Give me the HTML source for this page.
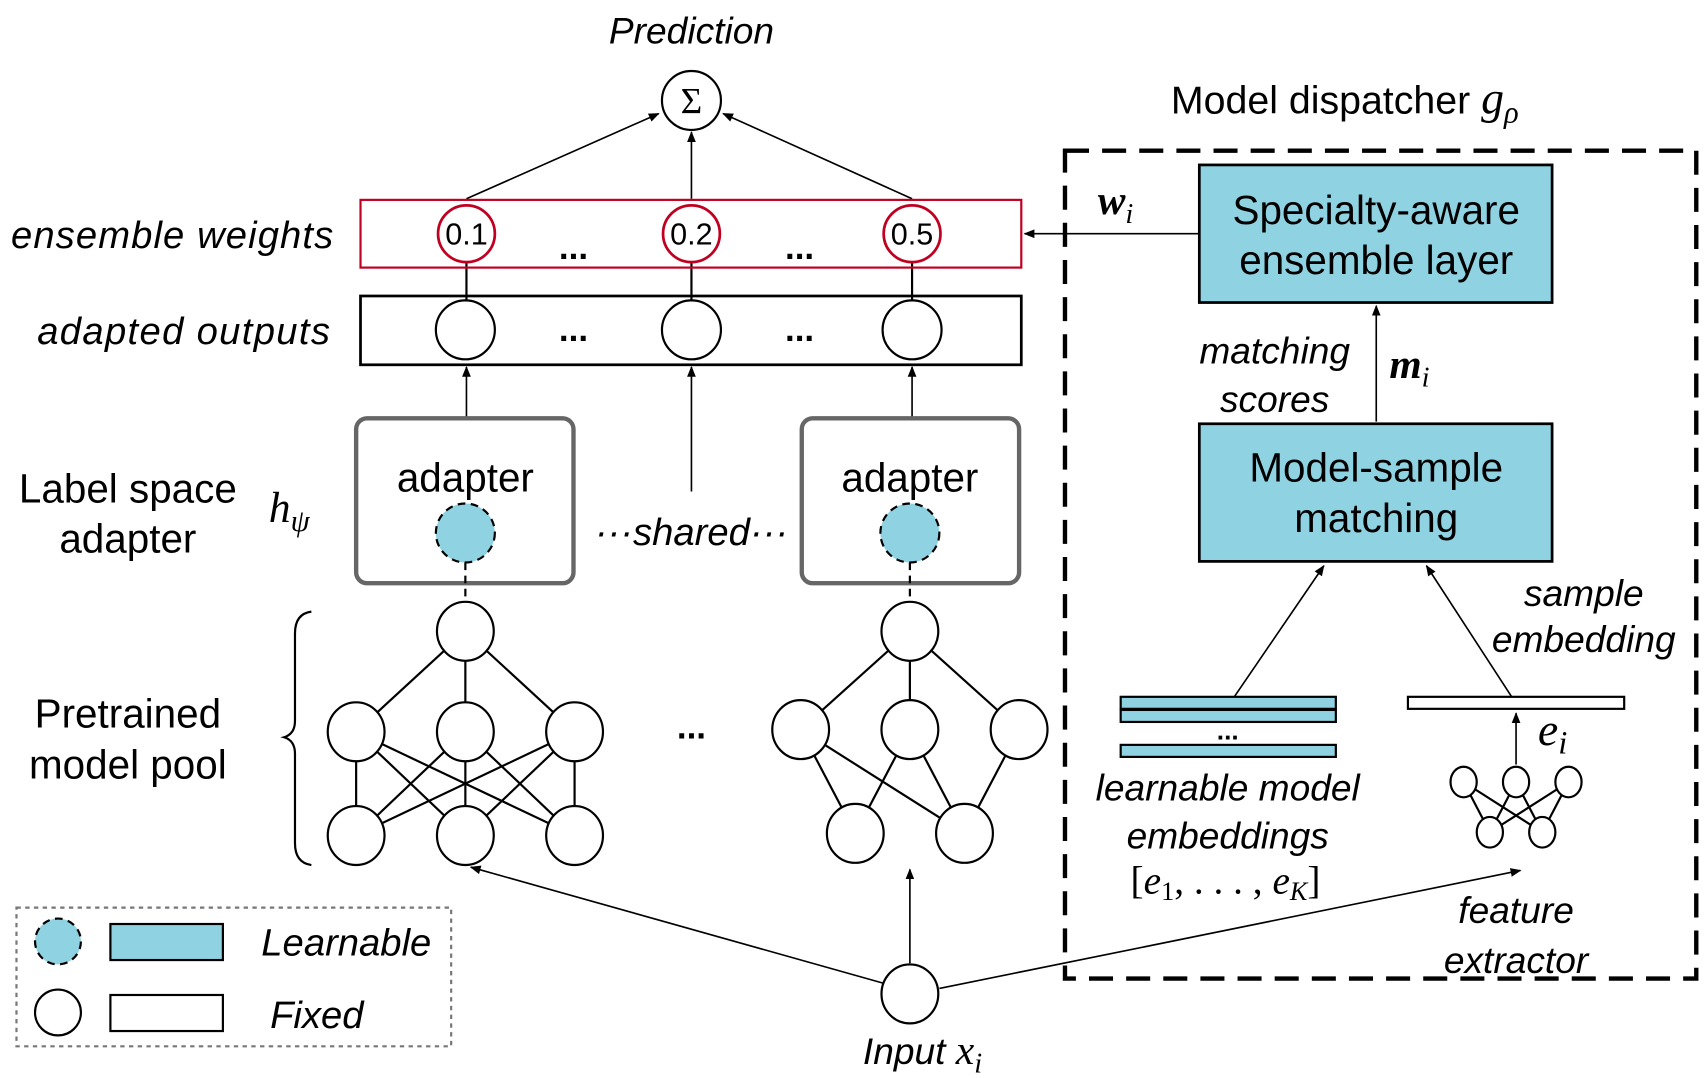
<!DOCTYPE html>
<html><head><meta charset="utf-8"><style>
html,body{margin:0;padding:0;background:#fff;}
svg{display:block;}
text{font-family:"Liberation Sans",sans-serif;fill:#000;}
.it{font-style:italic;}
.m{font-family:"Liberation Serif",serif;font-style:italic;}
</style></head><body>
<svg width="1704" height="1078" viewBox="0 0 1560 987" xmlns="http://www.w3.org/2000/svg">
<defs>
<marker id="a" markerWidth="10" markerHeight="10" refX="9" refY="5" orient="auto" markerUnits="userSpaceOnUse"><path d="M0,1 L10,5 L0,9 z" fill="#000"/></marker>
</defs>
<g fill="none" stroke="#000" stroke-width="1.5">
<line x1="427" y1="182" x2="603" y2="104" marker-end="url(#a)"/>
<line x1="633" y1="182" x2="633" y2="121" marker-end="url(#a)"/>
<line x1="835" y1="182" x2="662" y2="104" marker-end="url(#a)"/>
<line x1="427" y1="383" x2="427" y2="336" marker-end="url(#a)"/>
<line x1="633" y1="450" x2="633" y2="336" marker-end="url(#a)"/>
<line x1="835" y1="383" x2="835" y2="336" marker-end="url(#a)"/>
<line x1="1098" y1="214" x2="938" y2="214" marker-end="url(#a)"/>
<line x1="1260" y1="386" x2="1260" y2="280" marker-end="url(#a)"/>
<line x1="1130" y1="638" x2="1212" y2="518" marker-end="url(#a)"/>
<line x1="1384" y1="638" x2="1306" y2="518" marker-end="url(#a)"/>
<line x1="1388" y1="700" x2="1388" y2="653" marker-end="url(#a)"/>
<line x1="808" y1="900" x2="431" y2="794" marker-end="url(#a)"/>
<line x1="833" y1="882" x2="833" y2="796" marker-end="url(#a)"/>
<line x1="860" y1="905" x2="1392" y2="797" marker-end="url(#a)"/>
</g>
<text x="633" y="40" font-size="34" text-anchor="middle" class="it">Prediction</text>
<circle cx="633" cy="92" r="27" fill="#fff" stroke="#000" stroke-width="2"/>
<text x="633" y="104" font-size="34" text-anchor="middle" class="m" style="font-style:normal">Σ</text>
<g stroke="#000" stroke-width="2">
<line x1="427" y1="240" x2="427" y2="275"/><line x1="633" y1="240" x2="633" y2="275"/><line x1="835" y1="240" x2="835" y2="275"/>
</g>
<rect x="330" y="183" width="605" height="62" fill="none" stroke="#c00020" stroke-width="2"/>
<g fill="#fff" stroke="#c00020" stroke-width="2.5">
<circle cx="427" cy="214" r="26"/><circle cx="633" cy="214" r="26"/><circle cx="835" cy="214" r="26"/>
</g>
<g font-size="28" text-anchor="middle"><text x="427" y="224">0.1</text><text x="633" y="224">0.2</text><text x="835" y="224">0.5</text></g>
<g font-size="32" font-weight="bold" text-anchor="middle"><text x="525" y="237">...</text><text x="732" y="237">...</text><text x="525" y="312">...</text><text x="732" y="312">...</text><text x="633" y="676">...</text><text x="1124" y="677" font-size="24">...</text></g>
<text x="305" y="227" font-size="35" text-anchor="end" class="it" textLength="295">ensemble weights</text>
<rect x="330" y="271" width="605" height="63" fill="none" stroke="#000" stroke-width="2.5"/>
<g fill="#fff" stroke="#000" stroke-width="2">
<circle cx="426" cy="302" r="27"/><circle cx="633" cy="302" r="27"/><circle cx="835" cy="302" r="27"/>
</g>
<text x="302" y="315" font-size="35" text-anchor="end" class="it" textLength="268">adapted outputs</text>
<rect x="326" y="383" width="199" height="151" rx="10" fill="none" stroke="#666" stroke-width="4"/>
<rect x="734" y="383" width="199" height="151" rx="10" fill="none" stroke="#666" stroke-width="4"/>
<g font-size="37" text-anchor="middle"><text x="426" y="450">adapter</text><text x="833" y="450">adapter</text></g>
<g fill="#8fd3e3" stroke="#000" stroke-width="2" stroke-dasharray="7,5">
<circle cx="426" cy="488" r="27"/><circle cx="833" cy="488" r="27"/>
<line x1="426" y1="515" x2="426" y2="552"/><line x1="833" y1="515" x2="833" y2="552"/>
</g>
<text x="633" y="499" font-size="35" text-anchor="middle" class="it">···shared···</text>
<g font-size="37" text-anchor="middle"><text x="117" y="460">Label space</text><text x="117" y="506">adapter</text>
<text x="117" y="666">Pretrained</text><text x="117" y="713">model pool</text></g>
<text x="246" y="478" font-size="40" class="m">h<tspan font-size="28" dy="8">ψ</tspan></text>
<path d="M285,560 Q270,562 270,580 L270,660 Q270,672 260,675 Q270,678 270,690 L270,772 Q270,790 285,792" fill="none" stroke="#000" stroke-width="2"/>
<g stroke="#000" stroke-width="2">
<line x1="426" y1="578" x2="326" y2="670"/><line x1="426" y1="578" x2="426" y2="670"/><line x1="426" y1="578" x2="526" y2="670"/>
<line x1="326" y1="670" x2="326" y2="765"/><line x1="326" y1="670" x2="426" y2="765"/><line x1="326" y1="670" x2="526" y2="765"/>
<line x1="426" y1="670" x2="326" y2="765"/><line x1="426" y1="670" x2="426" y2="765"/><line x1="426" y1="670" x2="526" y2="765"/>
<line x1="526" y1="670" x2="326" y2="765"/><line x1="526" y1="670" x2="426" y2="765"/><line x1="526" y1="670" x2="526" y2="765"/>
<line x1="833" y1="578" x2="733" y2="668"/><line x1="833" y1="578" x2="833" y2="668"/><line x1="833" y1="578" x2="933" y2="668"/>
<line x1="733" y1="668" x2="783" y2="763"/><line x1="733" y1="668" x2="883" y2="763"/>
<line x1="833" y1="668" x2="783" y2="763"/><line x1="833" y1="668" x2="883" y2="763"/>
<line x1="933" y1="668" x2="883" y2="763"/>
<line x1="1340" y1="716" x2="1364" y2="762"/><line x1="1340" y1="716" x2="1412" y2="762"/>
<line x1="1388" y1="716" x2="1364" y2="762"/><line x1="1388" y1="716" x2="1412" y2="762"/>
<line x1="1436" y1="716" x2="1364" y2="762"/><line x1="1436" y1="716" x2="1412" y2="762"/>
</g>
<g fill="#fff" stroke="#000" stroke-width="2">
<ellipse cx="426" cy="578" rx="26" ry="27"/>
<ellipse cx="326" cy="670" rx="26" ry="27"/><ellipse cx="426" cy="670" rx="26" ry="27"/><ellipse cx="526" cy="670" rx="26" ry="27"/>
<ellipse cx="326" cy="765" rx="26" ry="27"/><ellipse cx="426" cy="765" rx="26" ry="27"/><ellipse cx="526" cy="765" rx="26" ry="27"/>
<ellipse cx="833" cy="578" rx="26" ry="27"/>
<ellipse cx="733" cy="668" rx="26" ry="27"/><ellipse cx="833" cy="668" rx="26" ry="27"/><ellipse cx="933" cy="668" rx="26" ry="27"/>
<ellipse cx="783" cy="763" rx="26" ry="27"/><ellipse cx="883" cy="763" rx="26" ry="27"/>
<ellipse cx="833" cy="910" rx="26" ry="27"/>
<ellipse cx="1340" cy="716" rx="12" ry="14"/><ellipse cx="1388" cy="716" rx="12" ry="14"/><ellipse cx="1436" cy="716" rx="12" ry="14"/>
<ellipse cx="1364" cy="762" rx="12" ry="14"/><ellipse cx="1412" cy="762" rx="12" ry="14"/>
</g>
<text x="790" y="974" font-size="34" class="it">Input <tspan class="m" font-size="38">x</tspan><tspan class="m" font-size="26" dy="8">i</tspan></text>
<rect x="15" y="831" width="398" height="127" fill="none" stroke="#777" stroke-width="2" stroke-dasharray="4,4"/>
<circle cx="53" cy="862" r="21" fill="#8fd3e3" stroke="#000" stroke-width="2" stroke-dasharray="7,5"/>
<rect x="101" y="846" width="103" height="33" fill="#8fd3e3" stroke="#000" stroke-width="2"/>
<circle cx="53" cy="927" r="21" fill="#fff" stroke="#000" stroke-width="2"/>
<rect x="101" y="911" width="103" height="33" fill="#fff" stroke="#000" stroke-width="2"/>
<text x="317" y="875" font-size="35" text-anchor="middle" class="it">Learnable</text>
<text x="290" y="941" font-size="35" text-anchor="middle" class="it">Fixed</text>
<rect x="975" y="138" width="578" height="758" fill="none" stroke="#000" stroke-width="4" stroke-dasharray="22,12"/>
<text x="1072" y="104" font-size="36">Model dispatcher <tspan class="m" font-size="42">g</tspan><tspan class="m" font-size="28" dy="8">ρ</tspan></text>
<rect x="1098" y="151" width="323" height="126" fill="#8fd3e3" stroke="#000" stroke-width="2.5"/>
<rect x="1098" y="388" width="323" height="126" fill="#8fd3e3" stroke="#000" stroke-width="2.5"/>
<g font-size="37" text-anchor="middle"><text x="1260" y="205">Specialty-aware</text><text x="1260" y="251">ensemble layer</text>
<text x="1260" y="441">Model-sample</text><text x="1260" y="487">matching</text></g>
<text x="1005" y="196" font-size="38" class="m" font-weight="bold">w<tspan font-size="26" dy="8" font-weight="normal">i</tspan></text>
<g font-size="34" class="it" text-anchor="middle"><text x="1167" y="333">matching</text><text x="1167" y="377">scores</text>
<text x="1450" y="555">sample</text><text x="1450" y="597">embedding</text>
<text x="1124" y="733">learnable model</text><text x="1124" y="777">embeddings</text>
<text x="1388" y="845">feature</text><text x="1388" y="891">extractor</text></g>
<text x="1272" y="346" font-size="38" class="m" font-weight="bold">m<tspan font-size="26" dy="8" font-weight="normal">i</tspan></text>
<rect x="1026" y="638" width="197" height="11" fill="#8fd3e3" stroke="#000" stroke-width="2"/>
<rect x="1026" y="650" width="197" height="11" fill="#8fd3e3" stroke="#000" stroke-width="2"/>
<rect x="1026" y="682" width="197" height="11" fill="#8fd3e3" stroke="#000" stroke-width="2"/>
<rect x="1289" y="638" width="198" height="11" fill="#fff" stroke="#000" stroke-width="2"/>
<text x="1408" y="682" font-size="42" class="m" fill="#333">e<tspan font-size="30" dy="8">i</tspan></text>
<text x="1122" y="818" font-size="36" class="m" text-anchor="middle" fill="#333"><tspan style="font-style:normal">[</tspan>e<tspan font-size="24" dy="6" style="font-style:normal">1</tspan><tspan dy="-6" style="font-style:normal">, . . . , </tspan>e<tspan font-size="24" dy="6">K</tspan><tspan dy="-6" style="font-style:normal">]</tspan></text>
</svg>
</body></html>
